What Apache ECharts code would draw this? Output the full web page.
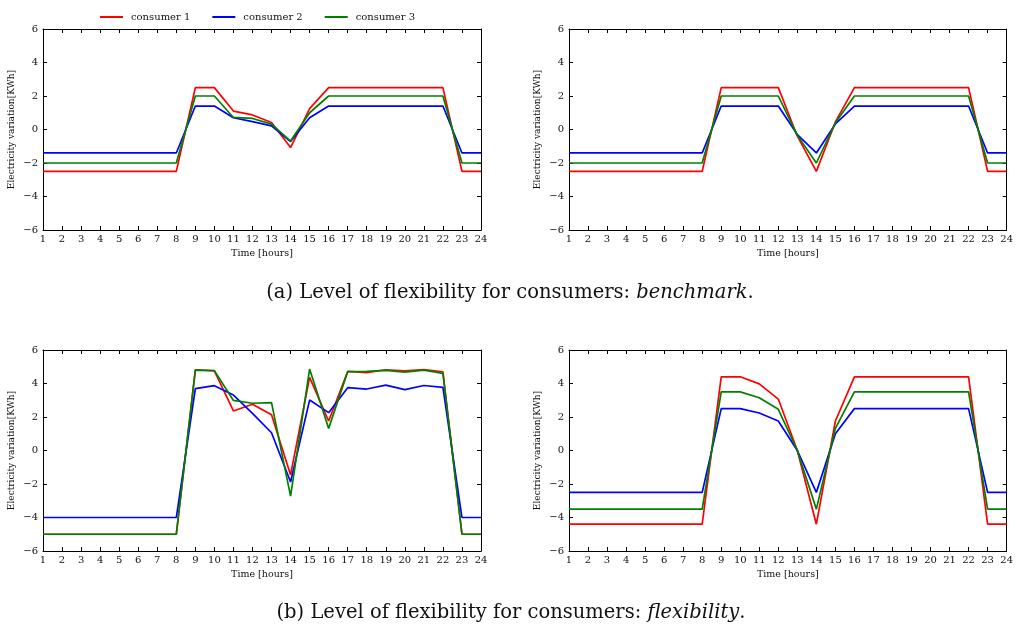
<!DOCTYPE html>
<html>
<head>
<meta charset="utf-8">
<script src="https://cdn.jsdelivr.net/npm/echarts@6/dist/echarts.min.js"></script>
<style>
html,body{margin:0;padding:0;background:#fff;}
#chart{width:1016px;height:631px;}
</style>
</head>
<body>
<div id="chart"></div>
<script>
const hours = [1,2,3,4,5,6,7,8,9,10,11,12,13,14,15,16,17,18,19,20,21,22,23,24];
const seriesNames = ['consumer 1','consumer 2','consumer 3'];
const yTicks = [-6,-4,-2,0,2,4,6];

// (a) benchmark – left panel
const benchLeftC1 = [-2.5,-2.5,-2.5,-2.5,-2.5,-2.5,-2.5,-2.5,2.5,2.5,1.1,0.87,0.42,-1.08,1.25,2.5,2.5,2.5,2.5,2.5,2.5,2.5,-2.5,-2.5];
const benchLeftC2 = [-1.4,-1.4,-1.4,-1.4,-1.4,-1.4,-1.4,-1.4,1.4,1.4,0.7,0.47,0.22,-0.72,0.7,1.4,1.4,1.4,1.4,1.4,1.4,1.4,-1.4,-1.4];
const benchLeftC3 = [-2,-2,-2,-2,-2,-2,-2,-2,2,2,0.72,0.66,0.32,-0.69,1.0,2,2,2,2,2,2,2,-2,-2];
// (a) benchmark – right panel
const benchRightC1 = [-2.5,-2.5,-2.5,-2.5,-2.5,-2.5,-2.5,-2.5,2.5,2.5,2.5,2.5,-0.4,-2.5,0.45,2.5,2.5,2.5,2.5,2.5,2.5,2.5,-2.5,-2.5];
const benchRightC2 = [-1.4,-1.4,-1.4,-1.4,-1.4,-1.4,-1.4,-1.4,1.4,1.4,1.4,1.4,-0.3,-1.4,0.33,1.4,1.4,1.4,1.4,1.4,1.4,1.4,-1.4,-1.4];
const benchRightC3 = [-2,-2,-2,-2,-2,-2,-2,-2,2,2,2,2,-0.35,-2,0.4,2,2,2,2,2,2,2,-2,-2];
// (b) flexibility – left panel
const flexLeftC1 = [-5,-5,-5,-5,-5,-5,-5,-5,4.82,4.75,2.36,2.76,2.14,-1.46,4.37,1.76,4.72,4.65,4.82,4.75,4.83,4.7,-5,-5];
const flexLeftC2 = [-4,-4,-4,-4,-4,-4,-4,-4,3.69,3.87,3.31,2.22,1.06,-1.88,3.01,2.26,3.75,3.67,3.9,3.63,3.88,3.77,-4,-4];
const flexLeftC3 = [-5,-5,-5,-5,-5,-5,-5,-5,4.8,4.77,2.99,2.82,2.86,-2.72,4.86,1.32,4.71,4.72,4.78,4.68,4.8,4.6,-5,-5];
// (b) flexibility – right panel
const flexRightC1 = [-4.4,-4.4,-4.4,-4.4,-4.4,-4.4,-4.4,-4.4,4.4,4.4,3.98,3.07,0,-4.4,1.76,4.4,4.4,4.4,4.4,4.4,4.4,4.4,-4.4,-4.4];
const flexRightC2 = [-2.5,-2.5,-2.5,-2.5,-2.5,-2.5,-2.5,-2.5,2.5,2.5,2.24,1.76,0,-2.5,1.0,2.5,2.5,2.5,2.5,2.5,2.5,2.5,-2.5,-2.5];
const flexRightC3 = [-3.5,-3.5,-3.5,-3.5,-3.5,-3.5,-3.5,-3.5,3.5,3.5,3.15,2.46,0,-3.5,1.32,3.5,3.5,3.5,3.5,3.5,3.5,3.5,-3.5,-3.5];

const panels = [
  [benchLeftC1, benchLeftC2, benchLeftC3],
  [benchRightC1, benchRightC2, benchRightC3],
  [flexLeftC1, flexLeftC2, flexLeftC3],
  [flexRightC1, flexRightC2, flexRightC3]
];
const colors = ['#ff0000','#0000ff','#008000'];
const FONT = 'DejaVu Serif';

const grids = [
  {left:43, right:535, top:29, height:201},
  {left:569, right:9, top:29, height:201},
  {left:43, right:535, top:350, height:201},
  {left:569, right:9, top:350, height:201}
];

const xAxes = [], yAxes = [], series = [];
const axisLineStyle = {color:'#000', width:1};
grids.forEach((g, i) => {
  xAxes.push({
    gridIndex:i, type:'value', min:1, max:24, interval:1, position:'bottom',
    name:'Time [hours]', nameLocation:'middle', nameGap:19,
    nameTextStyle:{fontFamily:FONT, fontSize:9.5, color:'#111'},
    axisLine:{show:true, onZero:false, lineStyle:axisLineStyle},
    axisTick:{show:true, inside:true, length:4, lineStyle:axisLineStyle},
    axisLabel:{fontFamily:FONT, fontSize:10, color:'#111', margin:4},
    splitLine:{show:false}
  });
  xAxes.push({
    gridIndex:i, type:'value', min:1, max:24, interval:1, position:'top',
    axisLine:{show:true, onZero:false, lineStyle:axisLineStyle},
    axisTick:{show:true, inside:true, length:4, lineStyle:axisLineStyle},
    axisLabel:{show:false}, splitLine:{show:false}
  });
  yAxes.push({
    gridIndex:i, type:'value', min:yTicks[0], max:yTicks[yTicks.length-1], interval:2, position:'left',
    name:'Electricity variation[KWh]', nameLocation:'middle', nameGap:27,
    nameTextStyle:{fontFamily:FONT, fontSize:9, color:'#111'},
    axisLine:{show:true, onZero:false, lineStyle:axisLineStyle},
    axisTick:{show:true, inside:true, length:4, lineStyle:axisLineStyle},
    axisLabel:{fontFamily:FONT, fontSize:10, color:'#111', margin:5,
      formatter: v => (v < 0 ? '\u2212' : '') + Math.abs(v)},
    splitLine:{show:false}
  });
  yAxes.push({
    gridIndex:i, type:'value', min:yTicks[0], max:yTicks[yTicks.length-1], interval:2, position:'right',
    axisLine:{show:true, onZero:false, lineStyle:axisLineStyle},
    axisTick:{show:true, inside:true, length:4, lineStyle:axisLineStyle},
    axisLabel:{show:false}, splitLine:{show:false}
  });
  panels[i].forEach((vals, k) => {
    series.push({
      type:'line', name:seriesNames[k], xAxisIndex:i*2, yAxisIndex:i*2,
      data: hours.map((h, j) => [h, vals[j]]),
      showSymbol:false, symbol:'none', color:colors[k],
      lineStyle:{color:colors[k], width:1.7}, z:2+k,
      emphasis:{disabled:true}
    });
  });
});

const CAP_FONT = 'DejaVu Serif';
const CAP_SIZE = 19.5;
const captionStyle = (label, italic) => ({
  text: '{n|' + label + ' Level of flexibility for consumers: }{i|' + italic + '}{n|.}',
  align:'center', verticalAlign:'middle',
  rich:{
    n:{fontFamily:CAP_FONT, fontSize:CAP_SIZE, fill:'#111'},
    i:{fontFamily:CAP_FONT, fontSize:CAP_SIZE, fontStyle:'italic', fill:'#111'}
  }
});

const chart = echarts.init(document.getElementById('chart'), null, {renderer:'canvas'});
chart.setOption({
  backgroundColor:'#fff',
  animation:false,
  legend:{
    data:seriesNames, left:95, top:7, icon:'rect', itemWidth:23, itemHeight:2, itemGap:22,
    textStyle:{fontFamily:FONT, fontSize:10, color:'#111', padding:[0,0,0,3]}
  },
  grid:grids,
  xAxis:xAxes,
  yAxis:yAxes,
  series:series,
  graphic:[
    {type:'text', x:510, y:293, style:captionStyle('(a)', 'benchmark')},
    {type:'text', x:511, y:613, style:captionStyle('(b)', 'flexibility')}
  ]
});
</script>
</body>
</html>
